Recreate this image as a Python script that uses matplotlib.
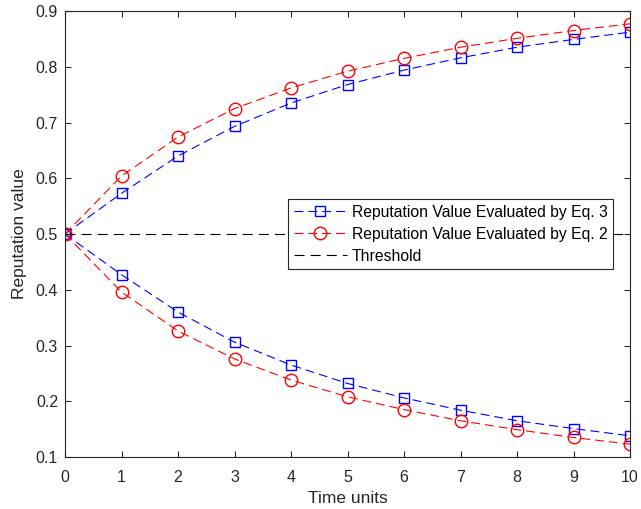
import matplotlib
matplotlib.use("Agg")
import matplotlib.pyplot as plt

# data
time_units = [0, 1, 2, 3, 4, 5, 6, 7, 8, 9, 10]
eq3_up = [0.5, 0.573, 0.640, 0.693, 0.735, 0.768, 0.794, 0.816, 0.835, 0.849, 0.862]
eq2_up = [0.5, 0.604, 0.674, 0.725, 0.762, 0.792, 0.815, 0.835, 0.851, 0.865, 0.877]
eq3_down = [0.5, 0.427, 0.360, 0.306, 0.265, 0.232, 0.206, 0.184, 0.165, 0.151, 0.138]
eq2_down = [0.5, 0.396, 0.326, 0.276, 0.238, 0.208, 0.185, 0.165, 0.149, 0.135, 0.123]
threshold = 0.5

plt.rcParams["font.family"] = ["Liberation Sans", "DejaVu Sans"]
AX_COLOR = "#262626"

fig = plt.figure(figsize=(6.41, 5.09), dpi=100)
ax = fig.add_axes([65 / 641, 1 - 457 / 509, 565 / 641, 446 / 509])

dash = (0, (8, 4.5))
blue = dict(color="#0000ff", linestyle=dash, linewidth=0.8, marker="s",
            markersize=7, markerfacecolor="none", markeredgewidth=1.0)
red = dict(color="#ff0000", linestyle=dash, linewidth=0.8, marker="o",
           markersize=9, markerfacecolor="none", markeredgewidth=1.0)

ax.plot(time_units, eq3_up, label="Reputation Value Evaluated by Eq. 3", **blue)
ax.plot(time_units, eq2_up, label="Reputation Value Evaluated by Eq. 2", **red)
ax.plot(time_units, eq3_down, **blue)
ax.plot(time_units, eq2_down, **red)
ax.axhline(threshold, color="black", linestyle=(0, (9, 5.5)), linewidth=0.8,
           label="Threshold")

ax.set_xlim(0, 10)
ax.set_ylim(0.1, 0.9)
ax.set_xticks(range(0, 11))
ax.set_yticks([0.1, 0.2, 0.3, 0.4, 0.5, 0.6, 0.7, 0.8, 0.9])
ax.set_yticklabels(["0.1", "0.2", "0.3", "0.4", "0.5", "0.6", "0.7", "0.8", "0.9"])
ax.tick_params(direction="in", top=True, right=True, length=4, width=0.8,
               colors=AX_COLOR, labelsize=11.5, labelcolor=AX_COLOR)
ax.tick_params(axis="x", pad=9)
ax.tick_params(axis="y", pad=5)
for s in ax.spines.values():
    s.set_color(AX_COLOR)
    s.set_linewidth(0.8)

ax.set_xlabel("Time units", fontsize=12.5, color=AX_COLOR, labelpad=5)
ax.set_ylabel("Reputation value", fontsize=12.5, color=AX_COLOR, labelpad=6)

leg = ax.legend(loc="upper right", bbox_to_anchor=(0.970, 0.578), fontsize=11.3,
                fancybox=False, framealpha=1, edgecolor=AX_COLOR,
                handlelength=3.4, borderaxespad=0, borderpad=0.35,
                labelspacing=0.45, handletextpad=0.3)
leg.get_frame().set_linewidth(0.8)

fig.savefig("out.png", dpi=100)
